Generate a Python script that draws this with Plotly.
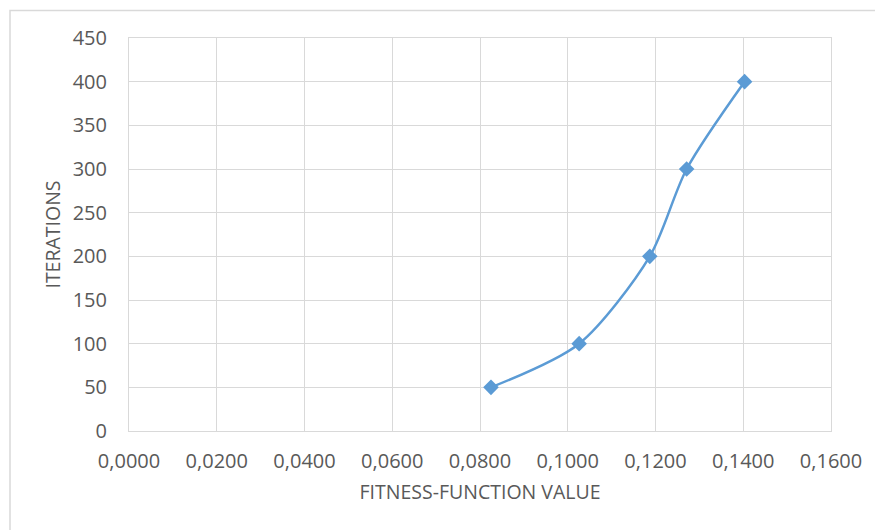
import plotly.graph_objects as go

# Fitness-function value reached after a given number of iterations
fitness = [0.0825, 0.1026, 0.1187, 0.1271, 0.1403]
iterations = [50, 100, 200, 300, 400]

x_ticks = [0.00, 0.02, 0.04, 0.06, 0.08, 0.10, 0.12, 0.14, 0.16]
x_tick_labels = ["0,0000", "0,0200", "0,0400", "0,0600", "0,0800",
                 "0,1000", "0,1200", "0,1400", "0,1600"]
y_ticks = [0, 50, 100, 150, 200, 250, 300, 350, 400, 450]

line_color = "#5B9BD5"
grid_color = "#D9D9D9"
text_color = "#595959"
font_family = "Open Sans, Liberation Sans, sans-serif"

fig = go.Figure()
fig.add_trace(go.Scatter(
    x=fitness,
    y=iterations,
    mode="lines+markers",
    line=dict(color=line_color, width=2.5, shape="spline", smoothing=0.8),
    marker=dict(symbol="diamond", size=12, color=line_color),
    showlegend=False,
))

fig.update_layout(
    width=875,
    height=530,
    margin=dict(l=129, r=44, t=38, b=99),
    paper_bgcolor="white",
    plot_bgcolor="white",
    font=dict(family=font_family, size=20, color=text_color),
    xaxis=dict(
        range=[0, 0.16],
        tickvals=x_ticks,
        ticktext=x_tick_labels,
        showgrid=True,
        gridcolor=grid_color,
        gridwidth=1,
        zeroline=False,
        showline=True,
        linecolor=grid_color,
        mirror=True,
        ticks="",
        ticklabelstandoff=12,
        tickfont=dict(size=20, color=text_color),
        title=dict(text="FITNESS-FUNCTION VALUE", standoff=12,
                   font=dict(size=19.5, color=text_color)),
    ),
    yaxis=dict(
        range=[0, 450],
        tickvals=y_ticks,
        showgrid=True,
        gridcolor=grid_color,
        gridwidth=1,
        zeroline=False,
        showline=True,
        linecolor=grid_color,
        mirror=True,
        ticks="",
        ticklabelstandoff=17,
        tickfont=dict(size=20, color=text_color),
        title=dict(text="ITERATIONS", standoff=6,
                   font=dict(size=19.5, color=text_color)),
    ),
    shapes=[
        # chart-area frame
        dict(type="rect", xref="paper", yref="paper",
             x0=-119 / 702, x1=1.1, y0=-0.4, y1=(431 - 10.5) / 393,
             line=dict(color="#D9D9D9", width=1.5), layer="below"),
    ],
)

fig.write_html("out.html")
